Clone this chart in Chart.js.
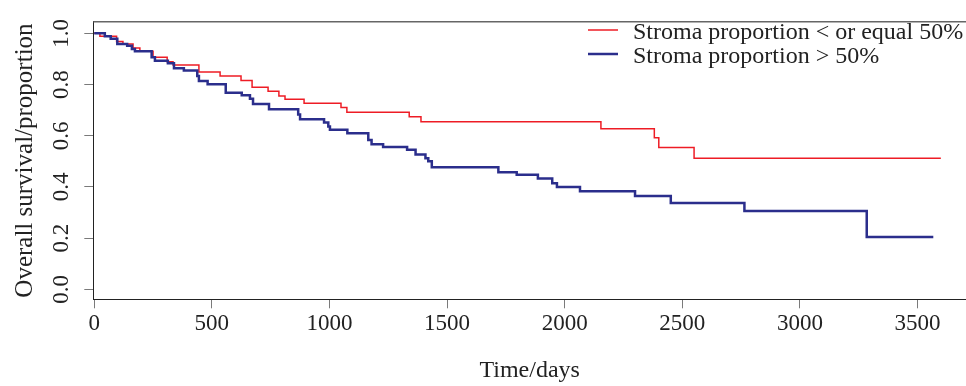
<!DOCTYPE html>
<html>
<head>
<meta charset="utf-8">
<script src="https://cdn.jsdelivr.net/npm/chart.js@4.4.1/dist/chart.umd.min.js"></script>
<style>
  html, body { margin: 0; padding: 0; background: #fff; }
  canvas { display: block; }
</style>
</head>
<body>
<canvas id="km" width="966" height="386"></canvas>
<script>
// ---------- data ----------
const seriesNames = ["Stroma proportion < or equal 50%", "Stroma proportion > 50%"];

const lowDays = [0, 24, 95, 122, 165, 194, 250, 310, 335, 445, 535, 624, 671, 739, 785, 811,
  892, 1049, 1074, 1339, 1389, 2154, 2381, 2400, 2550, 3599];
const lowSurv = [1.0, 0.989, 0.968, 0.958, 0.943, 0.93, 0.907, 0.889, 0.876, 0.849, 0.833, 0.816,
  0.789, 0.774, 0.755, 0.743, 0.727, 0.71, 0.692, 0.674, 0.655, 0.627, 0.592, 0.554, 0.512, 0.512];

const highDays = [0, 45, 70, 98, 140, 160, 173, 244, 258, 313, 339, 381, 438, 445, 482, 559, 627,
  662, 675, 743, 867, 875, 977, 995, 1002, 1076, 1165, 1179, 1228, 1330, 1366, 1408, 1420, 1435,
  1718, 1796, 1886, 1947, 1967, 2065, 2299, 2451, 2764, 3284, 3567];
const highSurv = [1.0, 0.989, 0.979, 0.958, 0.951, 0.939, 0.93, 0.907, 0.893, 0.883, 0.864, 0.855,
  0.833, 0.814, 0.801, 0.768, 0.758, 0.745, 0.724, 0.704, 0.683, 0.664, 0.652, 0.636, 0.623, 0.61,
  0.583, 0.567, 0.556, 0.545, 0.527, 0.512, 0.5, 0.477, 0.458, 0.448, 0.433, 0.415, 0.4, 0.383,
  0.365, 0.337, 0.306, 0.205, 0.205];

const xTicks = [0, 500, 1000, 1500, 2000, 2500, 3000, 3500];
const yTicks = [0, 0.2, 0.4, 0.6, 0.8, 1.0];

// ---------- style ----------
const RED = "#ee1c25";
const BLUE = "#2b2e8c";
const INK = "#222";
const TICK = "#7a7a7a";
const SERIF = "'Liberation Serif', 'DejaVu Serif', serif";

const toPoints = (xs, ys) => xs.map((x, i) => ({ x, y: ys[i] }));

// top frame line + legend, drawn after the datasets
const extras = {
  id: "extras",
  afterDraw(chart) {
    const { ctx, chartArea } = chart;
    ctx.save();
    ctx.strokeStyle = "#666";
    ctx.lineWidth = 1.5;
    ctx.beginPath();
    ctx.moveTo(chartArea.left, chartArea.top);
    ctx.lineTo(chartArea.right, chartArea.top);
    ctx.stroke();

    ctx.font = `24px ${SERIF}`;
    ctx.fillStyle = INK;
    ctx.textBaseline = "alphabetic";
    chart.data.datasets.forEach((ds, i) => {
      const y = 30 + i * 24;
      ctx.strokeStyle = ds.borderColor;
      ctx.lineWidth = ds.borderWidth;
      ctx.beginPath();
      ctx.moveTo(588, y);
      ctx.lineTo(618, y);
      ctx.stroke();
      ctx.fillText(seriesNames[i], 633, y + 9);
    });
    ctx.restore();
  },
};

new Chart(document.getElementById("km"), {
  type: "line",
  data: {
    datasets: [
      { label: seriesNames[0], data: toPoints(lowDays, lowSurv), borderColor: RED,
        borderWidth: 1.5, stepped: "before", pointRadius: 0, fill: false, order: 1 },
      { label: seriesNames[1], data: toPoints(highDays, highSurv), borderColor: BLUE,
        borderWidth: 2.5, stepped: "before", pointRadius: 0, fill: false, order: 0 },
    ],
  },
  options: {
    responsive: false,
    animation: false,
    events: [],
    layout: { padding: { top: 10, left: 0, right: 0, bottom: 0 } },
    plugins: { legend: { display: false }, tooltip: { enabled: false } },
    scales: {
      x: {
        type: "linear",
        min: -4,
        max: 3706,
        afterBuildTicks: (s) => { s.ticks = xTicks.map((v) => ({ value: v })); },
        afterFit: (s) => { s.height = 86.7; },
        grid: { drawOnChartArea: false, drawTicks: true, tickLength: 9, color: TICK },
        border: { color: INK, width: 1 },
        ticks: { color: INK, font: { family: SERIF, size: 23 }, padding: 2,
          maxRotation: 0, minRotation: 0, callback: (v) => String(v) },
        title: { display: true, text: "Time/days", color: INK,
          font: { family: SERIF, size: 24 }, padding: { top: 0, bottom: 1 } },
      },
      y: {
        type: "linear",
        min: -0.0386,
        max: 1.045,
        afterBuildTicks: (s) => { s.ticks = yTicks.map((v) => ({ value: v })); },
        afterFit: (s) => { s.width = 93.3; },
        grid: { drawOnChartArea: false, drawTicks: true, tickLength: 9, color: TICK },
        border: { color: INK, width: 1 },
        ticks: { color: INK, font: { family: SERIF, size: 23 }, padding: 8,
          minRotation: 90, maxRotation: 90, crossAlign: "center",
          callback: (v) => v.toFixed(1) },
        title: { display: true, text: "Overall survival/proportion", color: INK,
          font: { family: SERIF, size: 25 }, padding: { top: 10, bottom: 0 } },
      },
    },
  },
  plugins: [extras],
});
</script>
</body>
</html>
